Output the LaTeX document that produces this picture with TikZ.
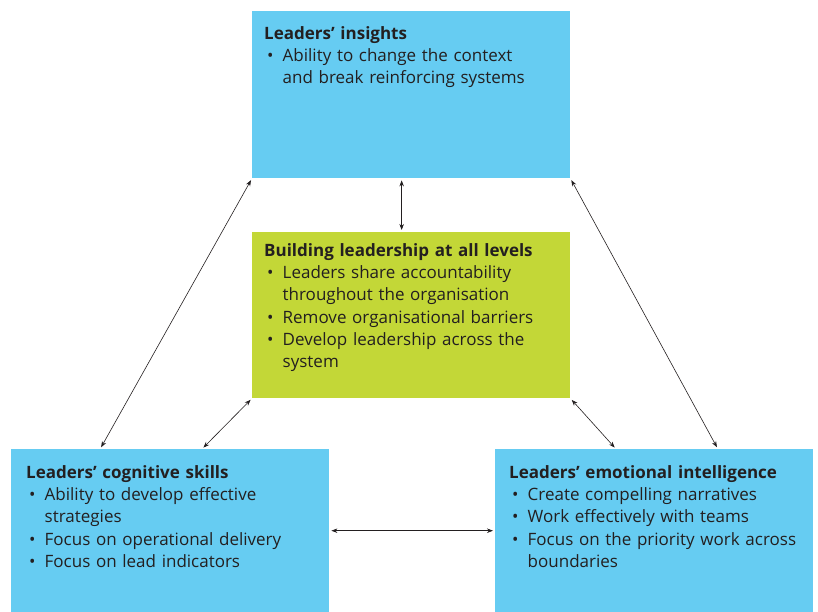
\documentclass[tikz,border=0pt]{standalone}
\usepackage{fontspec}
\setmainfont{Open Sans}
\usetikzlibrary{positioning,calc,arrows.meta}
\definecolor{boxblue}{RGB}{102,204,242}
\definecolor{boxgreen}{RGB}{195,215,55}
\definecolor{ink}{RGB}{35,31,32}
\newcommand\bul[1]{\par\hangindent=18.5pt\hangafter=1\makebox[18.5pt][l]{\hspace{3pt}\textbullet}#1\par}

\begin{document}
\begin{tikzpicture}[x=1pt,y=-1pt,
  box/.style={anchor=north west,inner sep=0pt,minimum width=318pt,minimum height=167pt},
  txt/.style={inner sep=0pt,text width=300pt,align=left,text=ink,
    font=\fontsize{17}{22.3}\selectfont},
  link/.style={{Stealth[length=6pt,width=4.5pt]}-{Stealth[length=6pt,width=4.5pt]},
    semithick,ink,shorten <=2pt,shorten >=2pt}]
\useasboundingbox (0,0) rectangle (818,612);
% boxes:
\node[box,fill=boxblue] (ins) at (252,11) {};
\node[box,fill=boxgreen,minimum height=166pt] (bld) at (252,232) {};
\node[box,fill=boxblue,minimum height=163pt] (cog) at (11,449) {};
\node[box,fill=boxblue,minimum height=163pt] (emo) at (495,449) {};
% texts:
\node[txt,below right=15pt and 12pt of ins.north west] (insT) {\textbf{Leaders’ insights}
  \bul{Ability to change the context\newline and break reinforcing systems}};
\node[txt,below right=11pt and 12pt of bld.north west] (bldT) {\textbf{Building leadership at all levels}
  \bul{Leaders share accountability\newline throughout the organisation}
  \bul{Remove organisational barriers}
  \bul{Develop leadership across the\newline system}};
\node[txt,below right=16pt and 15pt of cog.north west] (cogT) {\textbf{Leaders’ cognitive skills}
  \bul{Ability to develop effective\newline strategies}
  \bul{Focus on operational delivery}
  \bul{Focus on lead indicators}};
\node[txt,below right=16pt and 14pt of emo.north west] (emoT) {\textbf{Leaders’ emotional intelligence}
  \bul{Create compelling narratives}
  \bul{Work effectively with teams}
  \bul{Focus on the priority work across\newline boundaries}};
% links:
\draw[link] ($(ins.south west)!0.47!(ins.south east)$) -- ($(bld.north west)!0.47!(bld.north east)$);
\draw[link] (ins.south west) -- ($(cog.north west)!0.28!(cog.north east)$);
\draw[link] (bld.south west) -- ($(cog.north west)!0.6!(cog.north east)$);
\draw[link] (ins.south east) -- ($(emo.north west)!0.7!(emo.north east)$);
\draw[link] (bld.south east) -- ($(emo.north west)!0.38!(emo.north east)$);
\draw[link] (cog.east) -- (emo.west);
\end{tikzpicture}
\end{document}
